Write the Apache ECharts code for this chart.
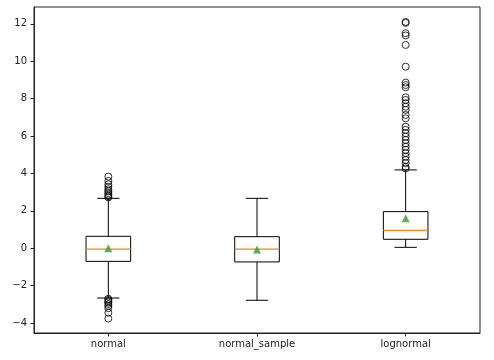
<!DOCTYPE html>
<html>
<head>
<meta charset="utf-8">
<script src="https://cdn.jsdelivr.net/npm/echarts@6/dist/echarts.min.js"></script>
<style>html,body{margin:0;padding:0;background:#fff;}#c{width:494px;height:360px;}</style>
</head>
<body>
<div id="c"></div>
<script>
const categories = ['normal', 'normal_sample', 'lognormal'];
// [lowWhisker, Q1, median, Q3, highWhisker]
const boxStats = [
  [-2.66, -0.70, -0.05, 0.64, 2.67],
  [-2.78, -0.73, -0.05, 0.62, 2.67],
  [0.05, 0.48, 0.96, 1.96, 4.19]
];
const means = [0.0, -0.07, 1.6];
const outliersNormal = [3.83, 3.6, 3.42, 3.28, 3.15, 3.05, 2.95, 2.86, 2.78, 2.72,
  -2.7, -2.76, -2.83, -2.9, -2.98, -3.08, -3.2, -3.45, -3.76];
const outliersSample = [];
const outliersLognormal = [12.1, 12.05, 11.5, 11.38, 10.87, 9.71, 8.86, 8.73, 8.61,
  8.07, 7.93, 7.75, 7.57, 7.4, 7.13, 6.95, 6.5, 6.33, 6.15, 5.97, 5.79, 5.61,
  5.43, 5.26, 5.08, 4.9, 4.72, 4.55, 4.36, 4.27];
const yTicks = [-4, -2, 0, 2, 4, 6, 8, 10, 12];

const outlierGroups = [outliersNormal, outliersSample, outliersLognormal];
const outlierData = [];
outlierGroups.forEach((g, i) => g.forEach(v => outlierData.push([i, v])));
const boxData = boxStats.map((s, i) => [i].concat(s));
const meanData = means.map((m, i) => [i, m]);

const chart = echarts.init(document.getElementById('c'), null, {renderer: 'canvas'});
const fontFamily = 'DejaVu Sans';
chart.setOption({
  animation: false,
  grid: {left: 34, right: 14, top: 7, bottom: 27, show: true, borderColor: '#222', borderWidth: 1},
  xAxis: {
    type: 'category',
    data: categories,
    boundaryGap: true,
    axisLine: {show: true, onZero: false, lineStyle: {color: '#222', width: 1}},
    axisTick: {show: true, alignWithLabel: true, length: 3.5, lineStyle: {color: '#222'}},
    axisLabel: {color: '#222', fontSize: 10, fontFamily, margin: 6},
    splitLine: {show: false}
  },
  yAxis: {
    type: 'value',
    min: -4.53,
    max: 12.9,
    axisLine: {show: true, onZero: false, lineStyle: {color: '#222', width: 1}},
    axisTick: {show: true, length: 3.5, lineStyle: {color: '#222'}, customValues: yTicks},
    axisLabel: {color: '#222', fontSize: 10, fontFamily, margin: 7, customValues: yTicks,
      formatter: v => String(v).replace('-', '\u2212')},
    splitLine: {show: false}
  },
  series: [
    {
      type: 'custom',
      data: boxData,
      encode: {x: 0, y: [1, 2, 3, 4, 5]},
      z: 2,
      renderItem: function (params, api) {
        const x = api.value(0);
        const pLow = api.coord([x, api.value(1)]);
        const pQ1 = api.coord([x, api.value(2)]);
        const pMed = api.coord([x, api.value(3)]);
        const pQ3 = api.coord([x, api.value(4)]);
        const pHigh = api.coord([x, api.value(5)]);
        const band = api.size([1, 0])[0];
        const bw = band * 0.3;
        const cw = bw / 2;
        const cx = pMed[0];
        const ls = {stroke: '#000', lineWidth: 1, fill: null};
        return {
          type: 'group',
          children: [
            {type: 'line', shape: {x1: cx, y1: pQ3[1], x2: cx, y2: pHigh[1]}, style: ls},
            {type: 'line', shape: {x1: cx, y1: pQ1[1], x2: cx, y2: pLow[1]}, style: ls},
            {type: 'line', shape: {x1: cx - cw / 2, y1: pHigh[1], x2: cx + cw / 2, y2: pHigh[1]}, style: ls},
            {type: 'line', shape: {x1: cx - cw / 2, y1: pLow[1], x2: cx + cw / 2, y2: pLow[1]}, style: ls},
            {type: 'rect', shape: {x: cx - bw / 2, y: pQ3[1], width: bw, height: pQ1[1] - pQ3[1]}, style: {stroke: '#000', lineWidth: 1, fill: 'none'}},
            {type: 'line', shape: {x1: cx - bw / 2, y1: pMed[1], x2: cx + bw / 2, y2: pMed[1]}, style: {stroke: '#ff7f0e', lineWidth: 1.2}}
          ]
        };
      }
    },
    {
      type: 'scatter',
      data: outlierData,
      symbol: 'circle',
      symbolSize: 7,
      itemStyle: {color: 'rgba(0,0,0,0)', borderColor: '#000', borderWidth: 1},
      z: 3
    },
    {
      type: 'scatter',
      data: meanData,
      symbol: 'triangle',
      symbolSize: 8,
      itemStyle: {color: '#2ca02c'},
      z: 4
    }
  ]
});
</script>
</body>
</html>
